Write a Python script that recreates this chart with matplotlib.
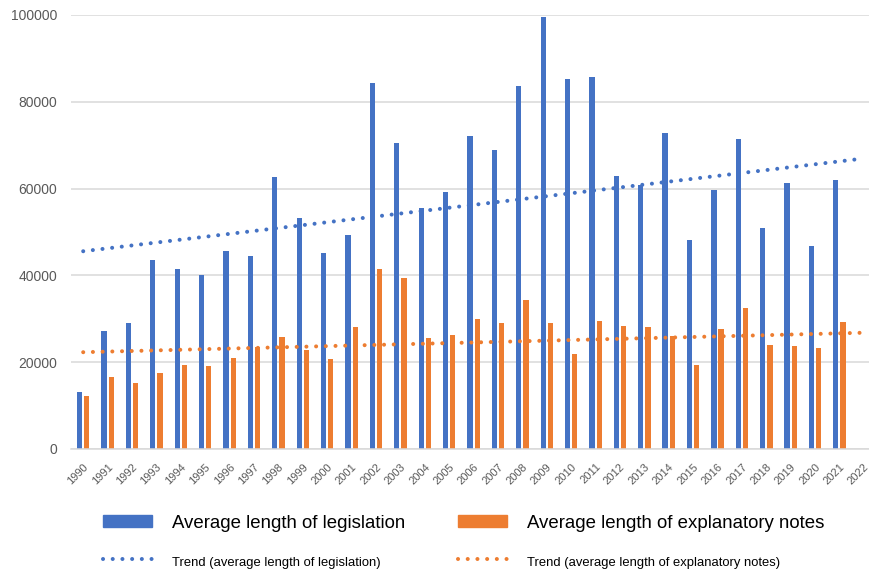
import matplotlib.pyplot as plt
import numpy as np
from matplotlib.lines import Line2D
from matplotlib.patches import Patch

blue = '#4472C4'
orange = '#ED7D31'
ctxt = '#595959'

years = [str(y) for y in range(1990, 2023)]

# average length of legislation (2022 has no value -> 0)
legislation = [13230, 27300, 29080, 43460, 41380, 40150, 45540, 44460,
               62620, 53150, 45230, 49310, 84380, 70620, 55460, 59310,
               72080, 69000, 83620, 99540, 85150, 85690, 62920, 60770,
               72920, 48080, 59620, 71380, 50850, 61380, 46770, 61920, 0]

# average length of explanatory notes
notes = [12230, 16540, 15230, 17620, 19380, 19150, 20920, 23460,
         25770, 22770, 20690, 28150, 41460, 39380, 25540, 26310,
         29850, 28920, 34230, 29080, 21920, 29380, 28380, 28080,
         26000, 19380, 27620, 32460, 24000, 23770, 23230, 29150, 0]

plt.rcParams['font.family'] = ['Liberation Sans', 'DejaVu Sans']

x = np.arange(len(years))
leg = np.array(legislation, dtype=float)
nts = np.array(notes, dtype=float)

# linear trendlines as in the spreadsheet
leg_fit = np.polyval(np.polyfit(x, leg, 1), x)
nts_fit = np.polyval(np.polyfit(x, nts, 1), x)

fig = plt.figure(figsize=(8.69, 5.69), dpi=100)
ax = fig.add_axes([71 / 869, 1 - 449 / 569, 805 / 869, 434 / 569])

w = 0.215
ax.bar(x - 0.145, leg, w, color=blue, zorder=2)
ax.bar(x + 0.15, nts, w, color=orange, zorder=2)

dots = (0, (0.01, 2.4))
ax.plot(x, leg_fit, color=blue, lw=2.9, linestyle=dots,
        dash_capstyle='round', zorder=3)
ax.plot(x, nts_fit, color=orange, lw=2.9, linestyle=dots,
        dash_capstyle='round', zorder=3)

ax.set_xlim(-0.5, len(years) - 0.5)
ax.set_ylim(0, 100000)
ax.set_yticks(range(0, 100001, 20000))
ax.set_xticks(x)
ax.set_xticklabels(years, rotation=45, ha='right', va='top',
                   rotation_mode='anchor', fontsize=8, color=ctxt)
for label in ax.get_yticklabels():
    label.set_color(ctxt)
    label.set_fontsize(10)

ax.grid(axis='y', color='#D9D9D9', lw=1.1, zorder=0)
ax.tick_params(axis='both', length=0)
ax.tick_params(axis='x', pad=9)
ax.tick_params(axis='y', pad=10)
for s in ('top', 'right', 'left'):
    ax.spines[s].set_visible(False)
ax.spines['bottom'].set_color('#D9D9D9')
ax.spines['bottom'].set_linewidth(1.1)

handles = [
    Patch(color=blue),
    Line2D([], [], color=blue, lw=2.9, linestyle=dots, dash_capstyle='round'),
    Patch(color=orange),
    Line2D([], [], color=orange, lw=2.9, linestyle=dots, dash_capstyle='round'),
]
labels = ['Average length of legislation',
          'Trend (average length of legislation)',
          'Average length of explanatory notes',
          'Trend (average length of explanatory notes)']
lg = fig.legend(handles, labels, ncol=2, loc='upper left',
                bbox_to_anchor=(86 / 869, 1 - 498 / 569), frameon=False,
                fontsize=13.4, handlelength=2.63, handleheight=0.62,
                handletextpad=1.08, columnspacing=2.85, labelspacing=1.15)
for i in (1, 3):
    lg.get_texts()[i].set_fontsize(9.4)

fig.savefig('out.png', dpi=100)
plt.close()
